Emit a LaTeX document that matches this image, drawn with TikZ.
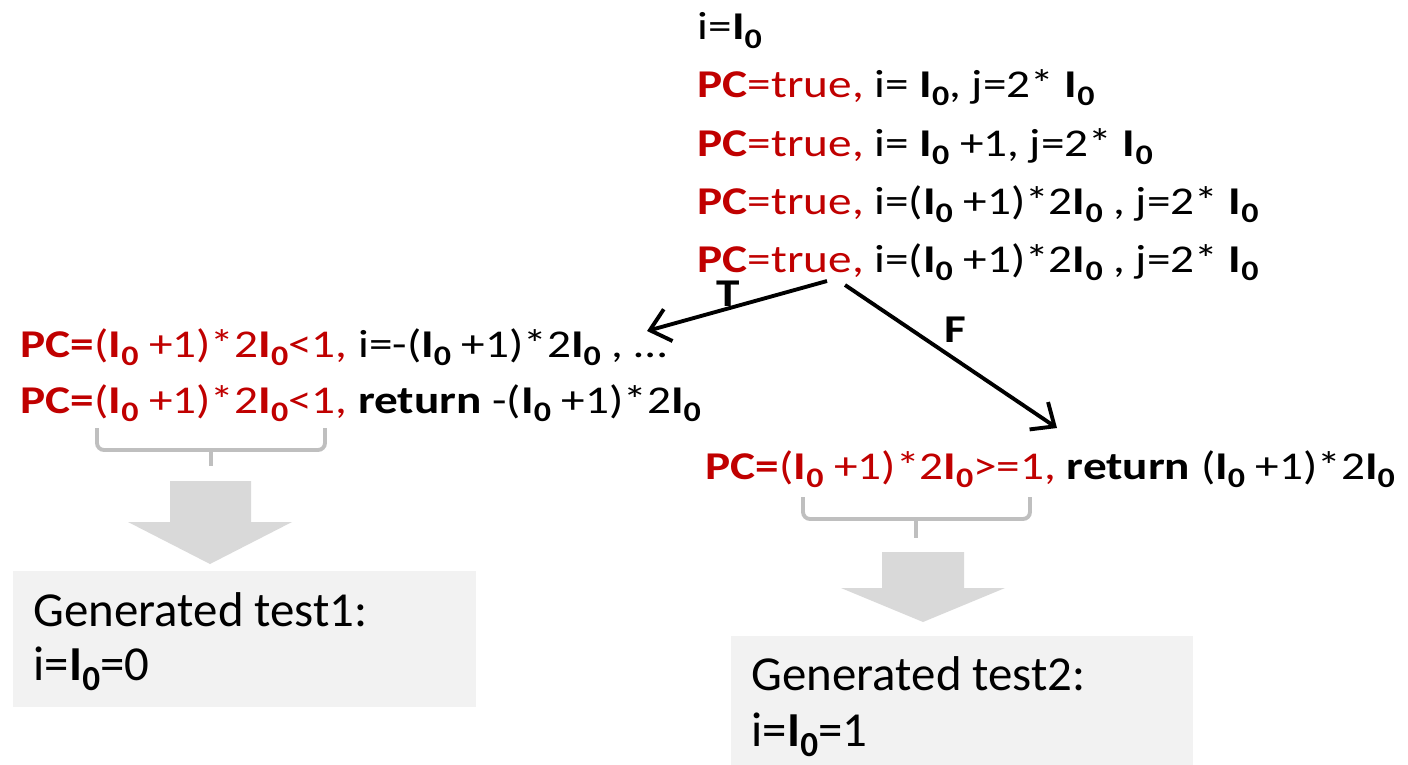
\documentclass[tikz,border=0pt]{standalone}
\usepackage{fontspec}
\setmainfont{Carlito}
\usepackage{graphicx}
\usetikzlibrary{arrows.meta}

\definecolor{pcred}{HTML}{C00000}
\definecolor{braceg}{HTML}{BFBFBF}
\definecolor{arrowg}{HTML}{D9D9D9}
\definecolor{boxg}{HTML}{F2F2F2}

\newcommand{\Iz}{\textbf{I\raisebox{-0.22em}{\scalebox{0.72}{0}}}}
\newcommand{\pc}[1]{\textcolor{pcred}{\textbf{PC}#1}}
\newcommand{\pcb}[1]{\textcolor{pcred}{\textbf{PC=}#1}}
\newcommand{\wide}[1]{\scalebox{1.2}[1]{#1}}

\begin{document}
\begin{tikzpicture}[x=0.1mm,y=-0.1mm,>={Straight Barb[length=1.9mm,width=3.3mm]},
  txt/.style={anchor=base west, inner sep=0, font=\fontsize{11.2}{13}\selectfont},
  bigtxt/.style={anchor=base west, inner sep=0, font=\fontsize{13.9}{16}\selectfont},
  branch/.style={line width=1.1pt,->},
  lbl/.style={inner sep=0, font=\fontsize{11.2}{13}\selectfont\bfseries},
  brace/.style={draw=braceg, line width=1.1pt, rounded corners=2pt},
  fatarrow/.style={fill=arrowg},
  testbox/.style={fill=boxg, inner sep=0, anchor=north west}]
\useasboundingbox (0,0) rectangle (1408,764);

% symbolic states along the path
\node[txt] (s0) at (697,39.5) {\wide{i=\Iz}};
\node[txt] (s1) at (697,97) {\wide{\pc{=true,} i= \Iz, j=2* \Iz}};
\node[txt] (s2) at (697,156) {\wide{\pc{=true,} i= \Iz{} +1, j=2* \Iz}};
\node[txt] (s3) at (697,214) {\wide{\pc{=true,} i=(\Iz{} +1)*2\Iz{} , j=2* \Iz}};
\node[txt] (s4) at (697,272) {\wide{\pc{=true,} i=(\Iz{} +1)*2\Iz{} , j=2* \Iz}};

% true branch
\node[txt] (l1) at (20,357) {\wide{\pcb{(\Iz{} +1)*2\Iz<1,} i=-(\Iz{} +1)*2\Iz{} , …}};
\node[txt] (l2) at (20,413) {\wide{\pcb{(\Iz{} +1)*2\Iz<1,} \textbf{return} -(\Iz{} +1)*2\Iz}};

% false branch
\node[txt] (r1) at (705,479) {\wide{\pcb{(\Iz{} +1)*2\Iz>=1,} \textbf{return} (\Iz{} +1)*2\Iz}};

\coordinate (tStart) at (827,281);
\coordinate (tEnd) at (647,331);
\coordinate (fStart) at (845,285);
\coordinate (fEnd) at (1057,428);
\draw[branch] (tStart) -- (tEnd);
\draw[branch] (fStart) -- (fEnd);
\node[lbl] (tl) at (728,294) {\wide{T}};
\node[lbl] (fl) at (955,330) {\wide{F}};

% braces + big arrows
\draw[brace] (97,428) -- (97,450) -- (325,450) -- (325,428);
\draw[brace] (211,450) -- (211,466);
\draw[brace] (803,497) -- (803,519) -- (1030,519) -- (1030,497);
\draw[brace] (916,519) -- (916,538);
\fill[fatarrow] (170,481) -- (251,481) -- (251,522) -- (292,522) -- (210,564) -- (128,522) -- (170,522) -- cycle;
\fill[fatarrow] (882,552) -- (964,552) -- (964,588) -- (1005,588) -- (923,622) -- (841,588) -- (882,588) -- cycle;

% generated tests
\node[testbox, minimum width=46.3mm, minimum height=13.6mm] (test1) at (12,570) {};
\node[bigtxt] (g1) at (33,626) {Generated test1:};
\node[bigtxt] (v1) at (33,680) {i=\Iz=0};
\node[testbox, minimum width=46.2mm, minimum height=13mm] (test2) at (730,635) {};
\node[bigtxt] (g2) at (751,690) {Generated test2:};
\node[bigtxt] (v2) at (751,746) {i=\Iz=1};
\end{tikzpicture}
\end{document}
